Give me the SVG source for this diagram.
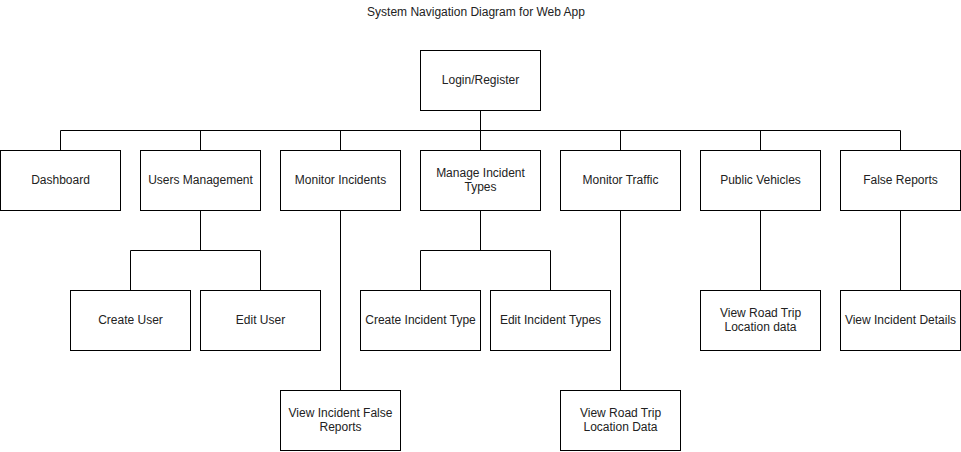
<svg xmlns="http://www.w3.org/2000/svg" width="961" height="452" viewBox="0 0 961 452">
<style>
.n rect{fill:#fff;stroke:#000;stroke-width:1}
text{font-family:"Liberation Sans",Arial,sans-serif;font-size:12px;fill:#222;text-anchor:middle}
.c path{fill:none;stroke:#000;stroke-width:1}
</style>
<rect width="961" height="452" fill="#fff"/>
<text x="476" y="16">System Navigation Diagram for Web App</text>
<g class="c">
<path d="M480.5 110.5V130.5M60.5 150.5V130.5H900.5V150.5M200.5 130.5V150.5M340.5 130.5V150.5M480.5 130.5V150.5M620.5 130.5V150.5M760.5 130.5V150.5"/>
<path d="M200.5 210.5V250.5M130.5 290.5V250.5H260.5V290.5"/>
<path d="M340.5 210.5V390.5"/>
<path d="M480.5 210.5V250.5M420.5 290.5V250.5H550.5V290.5"/>
<path d="M620.5 210.5V390.5"/>
<path d="M760.5 210.5V290.5"/>
<path d="M900.5 210.5V290.5"/>
</g>
<g id="login" class="n"><rect x="420.5" y="50.5" width="120" height="60"/><text x="480.5" y="84">Login/Register</text></g>
<g id="dashboard" class="n"><rect x="0.5" y="150.5" width="120" height="60"/><text x="60.5" y="184">Dashboard</text></g>
<g id="users" class="n"><rect x="140.5" y="150.5" width="120" height="60"/><text x="200.5" y="184">Users Management</text></g>
<g id="monitor-incidents" class="n"><rect x="280.5" y="150.5" width="120" height="60"/><text x="340.5" y="184">Monitor Incidents</text></g>
<g id="manage-types" class="n"><rect x="420.5" y="150.5" width="120" height="60"/><text x="480.5" y="177">Manage Incident</text><text x="480.5" y="191">Types</text></g>
<g id="monitor-traffic" class="n"><rect x="560.5" y="150.5" width="120" height="60"/><text x="620.5" y="184">Monitor Traffic</text></g>
<g id="public-vehicles" class="n"><rect x="700.5" y="150.5" width="120" height="60"/><text x="760.5" y="184">Public Vehicles</text></g>
<g id="false-reports" class="n"><rect x="840.5" y="150.5" width="120" height="60"/><text x="900.5" y="184">False Reports</text></g>
<g id="create-user" class="n"><rect x="70.5" y="290.5" width="120" height="60"/><text x="130.5" y="324">Create User</text></g>
<g id="edit-user" class="n"><rect x="200.5" y="290.5" width="120" height="60"/><text x="260.5" y="324">Edit User</text></g>
<g id="create-type" class="n"><rect x="360.5" y="290.5" width="120" height="60"/><text x="420.5" y="324">Create Incident Type</text></g>
<g id="edit-types" class="n"><rect x="490.5" y="290.5" width="120" height="60"/><text x="550.5" y="324">Edit Incident Types</text></g>
<g id="view-road-trip-pv" class="n"><rect x="700.5" y="290.5" width="120" height="60"/><text x="760.5" y="317">View Road Trip</text><text x="760.5" y="331">Location data</text></g>
<g id="view-incident-details" class="n"><rect x="840.5" y="290.5" width="120" height="60"/><text x="900.5" y="324">View Incident Details</text></g>
<g id="view-false-reports" class="n"><rect x="280.5" y="390.5" width="120" height="60"/><text x="340.5" y="417">View Incident False</text><text x="340.5" y="431">Reports</text></g>
<g id="view-road-trip-mt" class="n"><rect x="560.5" y="390.5" width="120" height="60"/><text x="620.5" y="417">View Road Trip</text><text x="620.5" y="431">Location Data</text></g>
</svg>
